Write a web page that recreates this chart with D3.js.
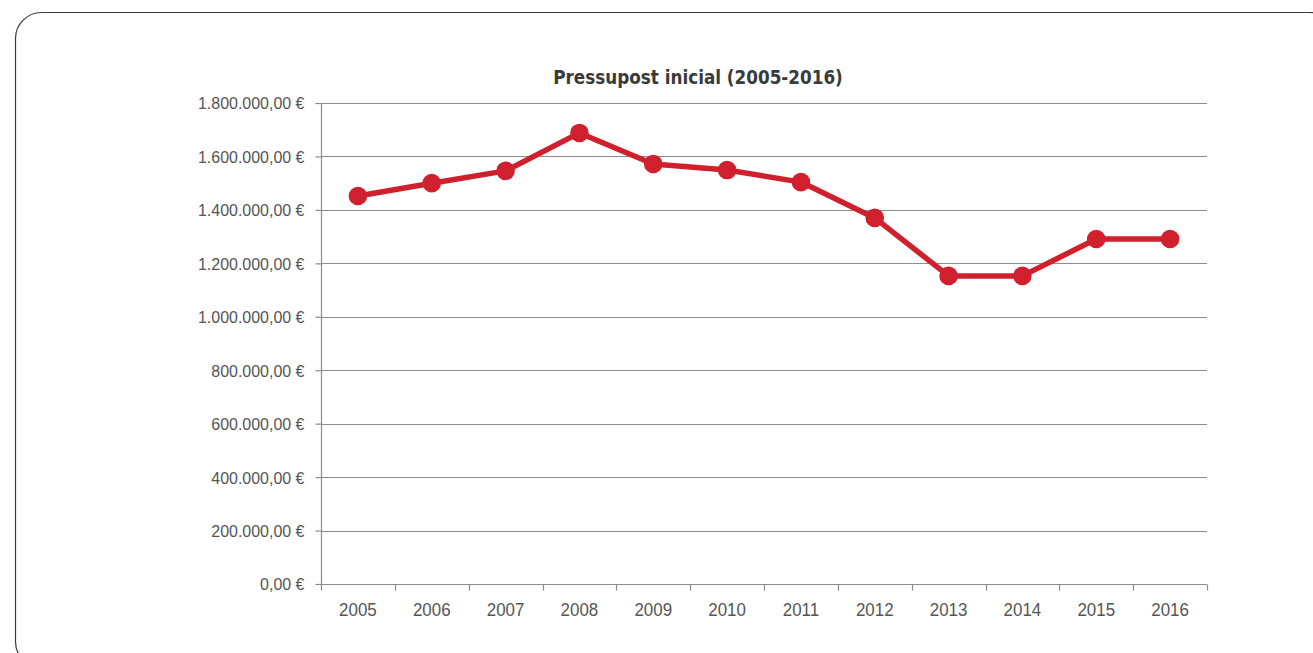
<!DOCTYPE html>
<html>
<head>
<meta charset="utf-8">
<script src="https://cdn.jsdelivr.net/npm/d3@7"></script>
<style>
  html, body { margin: 0; padding: 0; background: #fff; }
  svg { display: block; }
</style>
</head>
<body>
<svg id="chart" width="1313" height="653"></svg>
<script>
// Initial budget per year (EUR)
const years = ["2005","2006","2007","2008","2009","2010","2011","2012","2013","2014","2015","2016"];
const budget = [1452000, 1500000, 1546000, 1688000, 1572000, 1549000, 1504000, 1370000, 1153000, 1153000, 1291000, 1291000];
const yTicks = [0, 200000, 400000, 600000, 800000, 1000000, 1200000, 1400000, 1600000, 1800000];
const title = "Pressupost inicial (2005-2016)";

const svg = d3.select("#chart");
const margin = { left: 321, right: 1207, top: 103, bottom: 584 };
const labelFont = "'Liberation Sans', Arial, sans-serif";
const squeeze = 0.94;

// outer rounded frame
svg.append("rect")
  .attr("x", 15.5).attr("y", 12.5)
  .attr("width", 1320).attr("height", 655)
  .attr("rx", 26).attr("ry", 26)
  .attr("fill", "none").attr("stroke", "#3a3a3a").attr("stroke-width", 1.2);

const x = d3.scaleBand().domain(years).range([margin.left, margin.right]).padding(0);
const y = d3.scaleLinear().domain([0, 1800000]).range([margin.bottom, margin.top]);

const fmt = v => {
  const s = d3.format(",.2f")(v).replace(/,/g, "X").replace(".", ",").replace(/X/g, ".");
  return s + " €";
};

// horizontal gridlines
svg.append("g").selectAll("line").data(yTicks.filter(d => d > 0)).join("line")
  .attr("x1", margin.left).attr("x2", margin.right)
  .attr("y1", d => Math.round(y(d)) + 0.5).attr("y2", d => Math.round(y(d)) + 0.5)
  .attr("stroke", "#8c8c8c").attr("stroke-width", 1.2);

// y axis
const yAxis = svg.append("g").attr("transform", `translate(${margin.left + 0.5},0)`)
  .call(d3.axisLeft(y).tickValues(yTicks).tickFormat(fmt).tickSize(6).tickPadding(11));
yAxis.select(".domain").attr("stroke", "#8c8c8c").attr("stroke-width", 1.2).attr("d", `M0,${margin.top}V${margin.bottom}`);
yAxis.selectAll(".tick line").attr("stroke", "#8c8c8c").attr("stroke-width", 1.2);
yAxis.selectAll(".tick text")
  .attr("font-family", labelFont).attr("font-size", 17)
  .attr("fill", "#555")
  .attr("x", 0).attr("dy", "0.35em")
  .attr("transform", `translate(-17,0) scale(${squeeze},1)`);

// x axis with ticks at category boundaries
const xAxisG = svg.append("g").attr("transform", `translate(0,${margin.bottom + 0.5})`);
xAxisG.append("line").attr("x1", margin.left).attr("x2", margin.right)
  .attr("stroke", "#8c8c8c").attr("stroke-width", 1.2);
const bounds = years.map(d => x(d)).concat([x(years[years.length - 1]) + x.bandwidth()]);
xAxisG.selectAll("line.tk").data(bounds).join("line").attr("class", "tk")
  .attr("x1", d => Math.round(d) + 0.5).attr("x2", d => Math.round(d) + 0.5)
  .attr("y1", 0).attr("y2", 6)
  .attr("stroke", "#8c8c8c").attr("stroke-width", 1.2);
xAxisG.selectAll("text").data(years).join("text")
  .attr("transform", d => `translate(${x(d) + x.bandwidth() / 2},31) scale(${squeeze},1)`)
  .attr("text-anchor", "middle")
  .attr("font-family", labelFont).attr("font-size", 18)
  .attr("fill", "#555").text(d => d);

// title
svg.append("text")
  .attr("x", 698).attr("y", 84).attr("text-anchor", "middle")
  .attr("font-family", "'Liberation Sans Narrow', 'DejaVu Sans Condensed', sans-serif")
  .attr("font-weight", "bold").attr("font-size", 18.7).attr("fill", "#3a3a3a")
  .text(title);

// line and markers
const cx = d => x(d) + x.bandwidth() / 2;
const line = d3.line().x((d, i) => cx(years[i])).y(d => y(d));
svg.append("path").datum(budget).attr("d", line)
  .attr("fill", "none").attr("stroke", "#d0202e").attr("stroke-width", 5.5)
  .attr("stroke-linejoin", "round");
svg.append("g").selectAll("circle").data(budget).join("circle")
  .attr("cx", (d, i) => cx(years[i])).attr("cy", d => y(d)).attr("r", 9.3)
  .attr("fill", "#d0202e");
</script>
</body>
</html>
